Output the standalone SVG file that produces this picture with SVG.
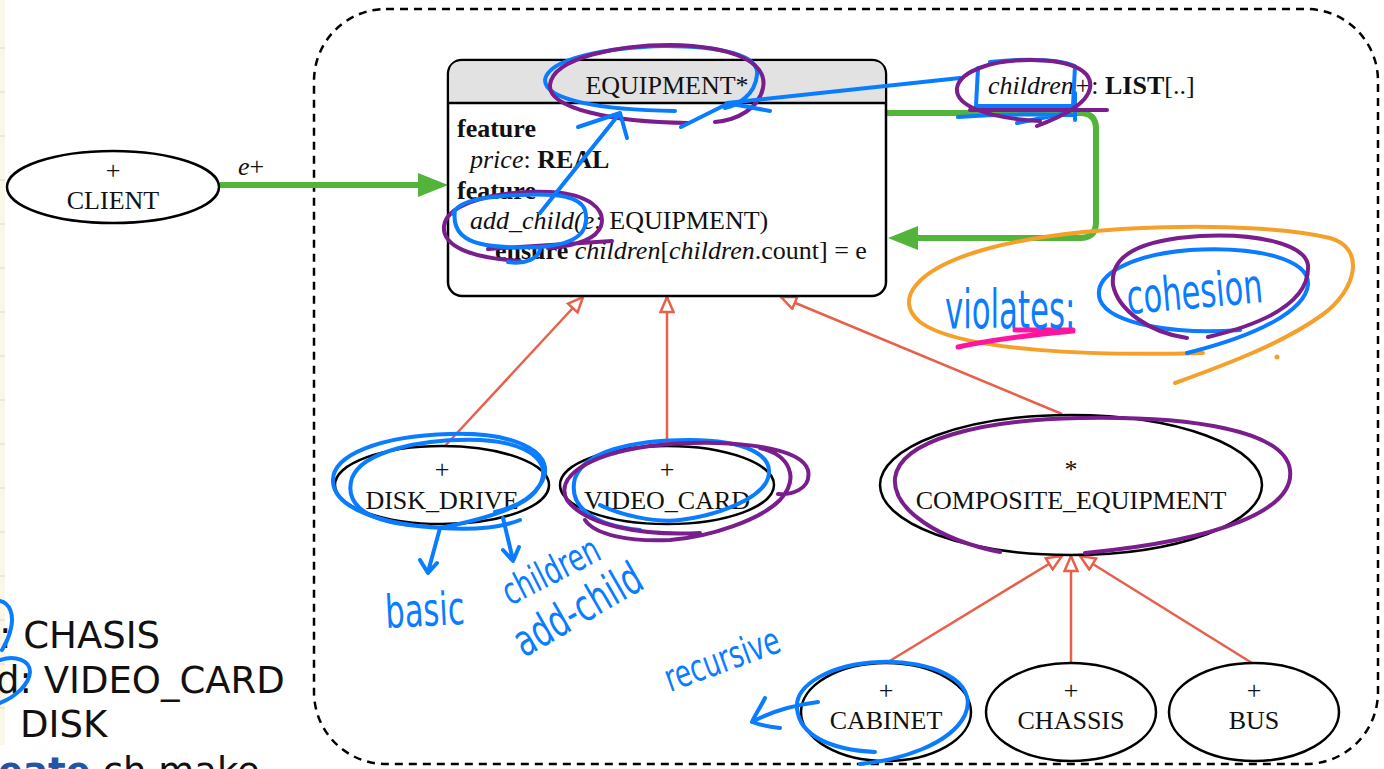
<svg xmlns="http://www.w3.org/2000/svg" width="1384" height="769" viewBox="0 0 1384 769">
<style>
.node{fill:#fff;stroke:#000;stroke-width:2.5}
.lbl{font-family:"Liberation Serif","Times New Roman",serif;font-size:26px;fill:#111}
.c{text-anchor:middle}
.b{font-weight:bold}
.i{font-style:italic}
.inh{fill:none;stroke:#e8604a;stroke-width:2.5}
.green{fill:none;stroke:#52b43a;stroke-width:6}
.ga{fill:#52b43a}
.hb{fill:none;stroke:#0a7cff;stroke-width:4;stroke-linecap:round;stroke-linejoin:round}
.hp{fill:none;stroke:#7a1e8e;stroke-width:4;stroke-linecap:round;stroke-linejoin:round}
.ho{fill:none;stroke:#f5a02a;stroke-width:4;stroke-linecap:round}
.hk{fill:none;stroke:#ff14a0;stroke-width:5;stroke-linecap:round}
.hw{font-family:"DejaVu Sans Condensed","DejaVu Sans",sans-serif;fill:#0a7cff}
.slide{font-family:"DejaVu Sans","Verdana",sans-serif;font-size:37px;fill:#111}
</style>
<defs>
<marker id="tri" viewBox="0 0 18 16" refX="16.5" refY="8" markerWidth="18" markerHeight="16" markerUnits="userSpaceOnUse" orient="auto">
<path d="M1.5,1.5 L16.5,8 L1.5,14.5 Z" fill="#fff" stroke="#e8604a" stroke-width="2.5"/>
</marker>
</defs>
<rect x="0" y="0" width="1384" height="769" fill="#fff"/>
<g id="sidebar">
<rect x="0" y="0" width="5" height="745" fill="#fbf7e6"/>
<g stroke="#ddd8c8" stroke-width="1">
<line x1="0" y1="48" x2="5" y2="48"/><line x1="0" y1="92" x2="5" y2="92"/><line x1="0" y1="136" x2="5" y2="136"/><line x1="0" y1="180" x2="5" y2="180"/><line x1="0" y1="224" x2="5" y2="224"/><line x1="0" y1="268" x2="5" y2="268"/><line x1="0" y1="312" x2="5" y2="312"/><line x1="0" y1="356" x2="5" y2="356"/><line x1="0" y1="400" x2="5" y2="400"/><line x1="0" y1="444" x2="5" y2="444"/><line x1="0" y1="488" x2="5" y2="488"/><line x1="0" y1="532" x2="5" y2="532"/><line x1="0" y1="576" x2="5" y2="576"/><line x1="0" y1="620" x2="5" y2="620"/><line x1="0" y1="664" x2="5" y2="664"/><line x1="0" y1="708" x2="5" y2="708"/>
</g>
</g>
<g id="slide-text">
<text class="slide" x="-1" y="648">: CHASIS</text>
<text class="slide" x="-4" y="693">d: VIDEO_CARD</text>
<text class="slide" x="20" y="737">DISK</text>
<text class="slide" x="-2" y="784"><tspan font-weight="bold" fill="#1f56a8">eate</tspan> ch.make</text>
</g>
<g id="cluster">
<rect x="314" y="9" width="1064" height="755" rx="72" ry="72" fill="none" stroke="#000" stroke-width="2.5" stroke-dasharray="8,6"/>
</g>
<g id="connectors">
<path class="green" d="M220,185 L420,185"/>
<polygon class="ga" points="448,185 418,173 418,197"/>
<text class="lbl" x="238" y="175"><tspan class="i">e</tspan>+</text>
<path class="green" d="M886,113 L1080,113 Q1096,113 1096,129 L1096,222 Q1096,238 1080,238 L916,238"/>
<polygon class="ga" points="888,238 918,226 918,250"/>
<path class="inh" d="M445,446 L583,297" marker-end="url(#tri)"/>
<path class="inh" d="M667,447 L667,297" marker-end="url(#tri)"/>
<path class="inh" d="M1062,414 L781,297" marker-end="url(#tri)"/>
<path class="inh" d="M888,662 L1062,556" marker-end="url(#tri)"/>
<path class="inh" d="M1071,662 L1071,556" marker-end="url(#tri)"/>
<path class="inh" d="M1252,663 L1080,556" marker-end="url(#tri)"/>
</g>
<g id="client">
<ellipse class="node" cx="113" cy="187" rx="106" ry="36"/>
<text class="lbl c" x="113" y="179">+</text>
<text class="lbl c" x="113" y="209">CLIENT</text>
</g>
<g id="equipment">
<rect class="node" x="448" y="60" width="438" height="236" rx="14"/>
<path d="M449.3,103 L449.3,74 Q449.3,61.3 462,61.3 L872,61.3 Q884.7,61.3 884.7,74 L884.7,103 Z" fill="#e2e2e2"/>
<line x1="448" y1="103" x2="886" y2="103" stroke="#000" stroke-width="2.5"/>
<text class="lbl c" x="667" y="94">EQUIPMENT*</text>
<text class="lbl b" x="457" y="137">feature</text>
<text class="lbl" x="470" y="168"><tspan class="i">price</tspan>: <tspan class="b">REAL</tspan></text>
<text class="lbl b" x="457" y="199">feature</text>
<text class="lbl" x="470" y="229"><tspan class="i">add_child(e:</tspan> EQUIPMENT)</text>
<text class="lbl" x="495" y="259"><tspan class="b">ensure</tspan> <tspan class="i">children</tspan>[<tspan class="i">children</tspan>.count] = e</text>
</g>
<g id="children-attr">
<text class="lbl" x="988" y="94"><tspan class="i">children+</tspan>: <tspan class="b">LIST</tspan>[..]</text>
</g>
<g id="disk_drive">
<ellipse class="node" cx="442" cy="485" rx="107" ry="39"/>
<text class="lbl c" x="442" y="478">+</text>
<text class="lbl c" x="442" y="509">DISK_DRIVE</text>
</g>
<g id="video_card">
<ellipse class="node" cx="667" cy="485" rx="107" ry="39"/>
<text class="lbl c" x="667" y="478">+</text>
<text class="lbl c" x="667" y="509">VIDEO_CARD</text>
</g>
<g id="composite_equipment">
<ellipse class="node" cx="1071" cy="485" rx="191" ry="70"/>
<text class="lbl c" x="1071" y="478">*</text>
<text class="lbl c" x="1071" y="509">COMPOSITE_EQUIPMENT</text>
</g>
<g id="cabinet">
<ellipse class="node" cx="886" cy="712" rx="85" ry="49"/>
<text class="lbl c" x="886" y="699">+</text>
<text class="lbl c" x="886" y="729">CABINET</text>
</g>
<g id="chassis">
<ellipse class="node" cx="1071" cy="712" rx="85" ry="49"/>
<text class="lbl c" x="1071" y="699">+</text>
<text class="lbl c" x="1071" y="729">CHASSIS</text>
</g>
<g id="bus">
<ellipse class="node" cx="1254" cy="712" rx="85" ry="49"/>
<text class="lbl c" x="1254" y="699">+</text>
<text class="lbl c" x="1254" y="729">BUS</text>
</g>
<g id="annotations">
<path class="hb" d="M675,111 C600,110 545,100 545,80 C548,58 610,47 665,46 C720,46 760,55 757,75 C755,95 738,105 725,108"/>
<path class="hp" d="M688,123 C610,122 548,108 550,85 C553,57 620,45 670,45 C735,46 768,63 763,88 C759,108 738,120 715,122"/>
<path class="hb" d="M960,78 L727,103 M727,103 L770,111 M681,127 L727,104"/>
<path class="hp" d="M520,261 C470,258 442,246 444,226 C447,202 500,190 550,192 C590,194 606,210 601,226 C596,240 574,246 548,248 M488,249 C540,246 585,243 612,241"/>
<path class="hb" d="M455,210 C451,238 470,250 540,247 C580,244 590,230 585,210 C580,197 560,193 520,195 C480,197 458,201 453,214 M508,262 C525,265 540,258 540,248"/>
<path class="hb" d="M540,213 L620,113 M578,127 L620,113 L627,138"/>
<path class="hb" d="M978,68 L976,106 L1073,106 L1075,66 C1060,60 1030,58 990,62 M958,117 C1000,114 1040,114 1073,115 M1017,123 L1067,113 M1075,93 L1075,120"/>
<path class="hp" d="M1040,121 C985,118 955,105 957,88 C960,70 995,60 1030,60 C1070,60 1093,70 1090,88 C1087,105 1060,117 1037,126 M970,110 L1107,110"/>
<path class="ho" d="M1203,353 C1100,356 960,352 920,322 C893,300 915,268 990,248 C1080,224 1250,220 1330,238 C1366,248 1357,290 1322,315 C1282,344 1222,366 1175,383"/>
<circle cx="1277" cy="357" r="2.5" fill="#f5a02a"/>
<path class="hk" d="M958,347 C990,340 1030,335 1073,331 M1015,330 L1073,330"/>
<path class="hb" d="M1240,330 C1180,335 1110,325 1100,300 C1092,275 1130,255 1190,250 C1260,246 1310,260 1308,285 C1305,310 1260,335 1187,353"/>
<path class="hp" d="M1187,338 C1150,333 1118,310 1113,285 C1110,255 1140,240 1200,236 C1260,233 1305,245 1308,265 C1310,295 1280,320 1208,337"/>
<text class="hw" font-size="36" transform="translate(945,328) scale(0.95,1.5)">violates:</text>
<text class="hw" font-size="34" transform="translate(1128,314) rotate(-5) scale(1,1.4)">cohesion</text>
<path class="hb" d="M455,528 C390,528 335,510 333,482 C331,455 380,436 450,434 C520,432 560,455 540,485 C530,500 512,508 495,512"/>
<path class="hb" d="M410,525 C360,520 345,500 352,478 C362,452 420,438 480,440 C535,443 556,466 535,492 C520,510 470,522 440,528 C470,530 500,528 520,520"/>
<path class="hb" d="M440,528 L428,572 M420,560 L428,573 L437,563 M503,518 L513,560 M503,550 L513,561 L519,547"/>
<text class="hw" font-size="34" transform="translate(386,628) rotate(-3) scale(1,1.35)">basic</text>
<text class="hw" font-size="29" transform="translate(510,606) rotate(-27) scale(1,1.3)">children</text>
<text class="hw" font-size="34" transform="translate(524,658) rotate(-30) scale(1,1.3)">add-child</text>
<path class="hb" d="M640,530 C590,525 568,505 575,478 C585,452 630,440 690,440 C745,440 775,455 768,478 C762,498 720,515 680,520 C655,523 620,515 600,505"/>
<path class="hp" d="M700,533 C640,536 585,525 567,500 C555,478 585,455 650,446 C720,438 800,445 808,470 C812,490 790,495 778,494 M760,448 C790,455 800,478 780,500 C760,520 710,537 670,540 C630,542 595,535 585,520"/>
<path class="hp" d="M1000,552 C940,540 892,510 895,478 C900,440 980,420 1080,418 C1190,416 1285,430 1290,470 C1295,510 1220,540 1085,553"/>
<path class="hb" d="M860,764 C900,760 950,745 965,715 C980,680 930,660 880,662 C830,664 795,685 797,708 C799,735 830,750 875,752"/>
<path class="hb" d="M818,702 C795,705 770,712 752,722 M765,698 C760,708 755,715 752,722 C760,725 770,727 780,728"/>
<text class="hw" font-size="29" transform="translate(670,692) rotate(-20) scale(1,1.3)">recursive</text>
<path class="hb" d="M0,601 C10,603 14,615 11,628 C9,638 5,645 2,650"/>
<path class="hb" d="M0,660 C15,655 30,660 30,672 C29,685 15,697 0,703"/>
</g>
</svg>
